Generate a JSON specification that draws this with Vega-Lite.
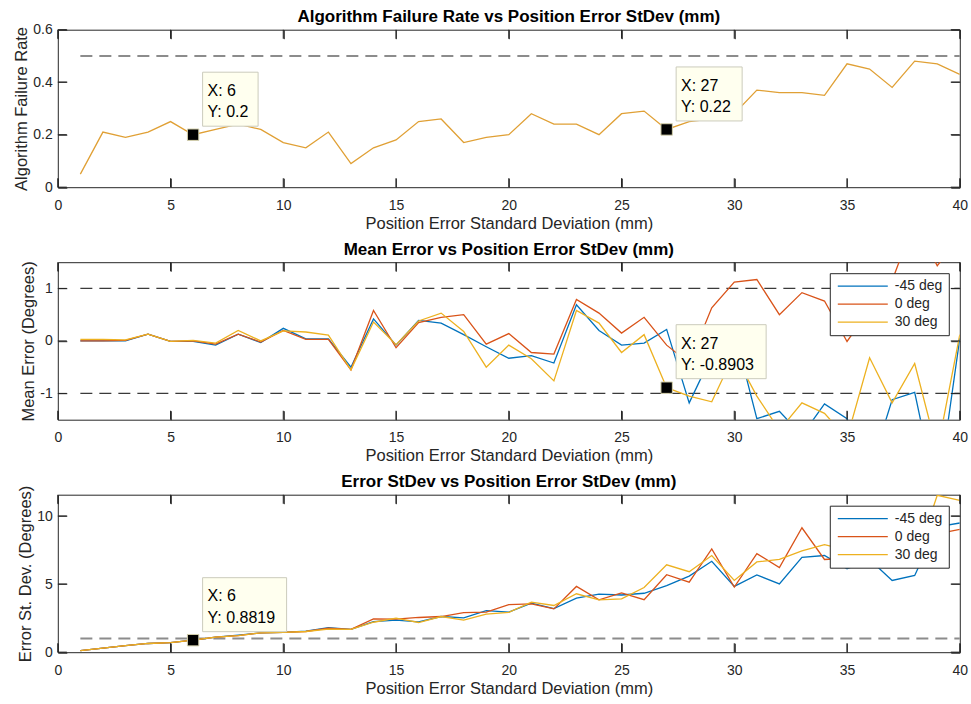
{
  "$schema": "https://vega.github.io/schema/vega-lite/v6.json",
  "background": "white",
  "padding": {"left": 12.8, "top": 7.7, "right": 0, "bottom": 1},
  "config": {
    "font": "Liberation Sans",
    "view": {"stroke": "#262626", "strokeWidth": 1},
    "axis": {
      "labelFont": "Liberation Sans", "labelFontSize": 14, "labelColor": "#262626", "labelFlush": false,
      "titleFont": "Liberation Sans", "titleFontSize": 16.5, "titleFontWeight": "normal", "titleColor": "#262626",
      "tickColor": "#262626", "tickWidth": 1, "tickSize": 9, "offset": -9, "grid": false, "domain": false,
      "titlePadding": 3, "minExtent": 0, "labelExpr": "'' + datum.value"
    },
    "title": {"font": "Liberation Sans", "fontSize": 17, "fontWeight": "bold", "color": "#000000", "anchor": "middle", "baseline": "alphabetic", "offset": 6.6},
    "legend": {
      "orient": "top-right", "offset": 11, "padding": 6, "strokeColor": "#262626", "fillColor": "#ffffff",
      "labelFont": "Liberation Sans", "labelFontSize": 14, "labelColor": "#262626",
      "symbolType": "M-1,0H9", "symbolSize": 100, "symbolStrokeWidth": 1.3, "labelOffset": 45, "rowPadding": 4
    }
  },
  "datasets": {
    "rate": [
      {"x": 1, "rate": 0.05}, {"x": 2, "rate": 0.21}, {"x": 3, "rate": 0.19}, {"x": 4, "rate": 0.21}, {"x": 5, "rate": 0.25},
      {"x": 6, "rate": 0.2}, {"x": 7, "rate": 0.22}, {"x": 8, "rate": 0.24}, {"x": 9, "rate": 0.22}, {"x": 10, "rate": 0.17},
      {"x": 11, "rate": 0.15}, {"x": 12, "rate": 0.21}, {"x": 13, "rate": 0.09}, {"x": 14, "rate": 0.15}, {"x": 15, "rate": 0.18},
      {"x": 16, "rate": 0.25}, {"x": 17, "rate": 0.26}, {"x": 18, "rate": 0.17}, {"x": 19, "rate": 0.19}, {"x": 20, "rate": 0.2},
      {"x": 21, "rate": 0.28}, {"x": 22, "rate": 0.24}, {"x": 23, "rate": 0.24}, {"x": 24, "rate": 0.2}, {"x": 25, "rate": 0.28},
      {"x": 26, "rate": 0.29}, {"x": 27, "rate": 0.22}, {"x": 28, "rate": 0.25}, {"x": 29, "rate": 0.26}, {"x": 30, "rate": 0.28},
      {"x": 31, "rate": 0.37}, {"x": 32, "rate": 0.36}, {"x": 33, "rate": 0.36}, {"x": 34, "rate": 0.35}, {"x": 35, "rate": 0.47},
      {"x": 36, "rate": 0.45}, {"x": 37, "rate": 0.38}, {"x": 38, "rate": 0.48}, {"x": 39, "rate": 0.47}, {"x": 40, "rate": 0.43}
    ],
    "mean": [
      {"x": 1, "-45 deg": 0.0, "0 deg": 0.0, "30 deg": 0.03},
      {"x": 2, "-45 deg": 0.0, "0 deg": 0.0, "30 deg": 0.03},
      {"x": 3, "-45 deg": 0.0, "0 deg": 0.01, "30 deg": 0.02},
      {"x": 4, "-45 deg": 0.13, "0 deg": 0.13, "30 deg": 0.13},
      {"x": 5, "-45 deg": -0.01, "0 deg": -0.01, "30 deg": -0.01},
      {"x": 6, "-45 deg": -0.01, "0 deg": 0.0, "30 deg": 0.01},
      {"x": 7, "-45 deg": -0.08, "0 deg": -0.06, "30 deg": -0.04},
      {"x": 8, "-45 deg": 0.13, "0 deg": 0.13, "30 deg": 0.2},
      {"x": 9, "-45 deg": -0.03, "0 deg": -0.02, "30 deg": 0.0},
      {"x": 10, "-45 deg": 0.24, "0 deg": 0.2, "30 deg": 0.19},
      {"x": 11, "-45 deg": 0.04, "0 deg": 0.03, "30 deg": 0.17},
      {"x": 12, "-45 deg": 0.04, "0 deg": 0.03, "30 deg": 0.11},
      {"x": 13, "-45 deg": -0.5, "0 deg": -0.55, "30 deg": -0.55},
      {"x": 14, "-45 deg": 0.42, "0 deg": 0.58, "30 deg": 0.36},
      {"x": 15, "-45 deg": -0.08, "0 deg": -0.13, "30 deg": -0.07},
      {"x": 16, "-45 deg": 0.39, "0 deg": 0.35, "30 deg": 0.38},
      {"x": 17, "-45 deg": 0.34, "0 deg": 0.45, "30 deg": 0.53},
      {"x": 18, "-45 deg": 0.12, "0 deg": 0.5, "30 deg": 0.18},
      {"x": 19, "-45 deg": -0.11, "0 deg": -0.06, "30 deg": -0.5},
      {"x": 20, "-45 deg": -0.33, "0 deg": 0.14, "30 deg": -0.08},
      {"x": 21, "-45 deg": -0.28, "0 deg": -0.22, "30 deg": -0.34},
      {"x": 22, "-45 deg": -0.42, "0 deg": -0.25, "30 deg": -0.76},
      {"x": 23, "-45 deg": 0.69, "0 deg": 0.79, "30 deg": 0.58},
      {"x": 24, "-45 deg": 0.2, "0 deg": 0.53, "30 deg": 0.34},
      {"x": 25, "-45 deg": -0.08, "0 deg": 0.15, "30 deg": -0.22},
      {"x": 26, "-45 deg": -0.04, "0 deg": 0.45, "30 deg": 0.12},
      {"x": 27, "-45 deg": 0.22, "0 deg": -0.08, "30 deg": -0.8903},
      {"x": 28, "-45 deg": -1.18, "0 deg": -0.42, "30 deg": -1.05},
      {"x": 29, "-45 deg": -0.28, "0 deg": 0.63, "30 deg": -1.16},
      {"x": 30, "-45 deg": 0.2, "0 deg": 1.12, "30 deg": -0.25},
      {"x": 31, "-45 deg": -1.48, "0 deg": 1.17, "30 deg": -1.05},
      {"x": 32, "-45 deg": -1.34, "0 deg": 0.5, "30 deg": -1.7},
      {"x": 33, "-45 deg": -1.8, "0 deg": 0.92, "30 deg": -1.18},
      {"x": 34, "-45 deg": -1.2, "0 deg": 0.76, "30 deg": -1.38},
      {"x": 35, "-45 deg": -1.48, "0 deg": -0.01, "30 deg": -1.85},
      {"x": 36, "-45 deg": -2.5, "0 deg": 0.6, "30 deg": -0.32},
      {"x": 37, "-45 deg": -1.12, "0 deg": 1.15, "30 deg": -1.18},
      {"x": 38, "-45 deg": -0.98, "0 deg": 2.3, "30 deg": -0.43},
      {"x": 39, "-45 deg": -3.0, "0 deg": 1.43, "30 deg": -2.1},
      {"x": 40, "-45 deg": 0.05, "0 deg": 2.0, "30 deg": 0.12}
    ],
    "sd": [
      {"x": 1, "-45 deg": 0.12, "0 deg": 0.12, "30 deg": 0.12},
      {"x": 2, "-45 deg": 0.3, "0 deg": 0.3, "30 deg": 0.3},
      {"x": 3, "-45 deg": 0.48, "0 deg": 0.48, "30 deg": 0.48},
      {"x": 4, "-45 deg": 0.64, "0 deg": 0.64, "30 deg": 0.64},
      {"x": 5, "-45 deg": 0.7, "0 deg": 0.7, "30 deg": 0.7},
      {"x": 6, "-45 deg": 0.8819, "0 deg": 0.88, "30 deg": 0.88},
      {"x": 7, "-45 deg": 1.1, "0 deg": 1.1, "30 deg": 1.1},
      {"x": 8, "-45 deg": 1.25, "0 deg": 1.22, "30 deg": 1.22},
      {"x": 9, "-45 deg": 1.42, "0 deg": 1.42, "30 deg": 1.42},
      {"x": 10, "-45 deg": 1.45, "0 deg": 1.45, "30 deg": 1.45},
      {"x": 11, "-45 deg": 1.55, "0 deg": 1.52, "30 deg": 1.52},
      {"x": 12, "-45 deg": 1.81, "0 deg": 1.76, "30 deg": 1.7},
      {"x": 13, "-45 deg": 1.67, "0 deg": 1.67, "30 deg": 1.67},
      {"x": 14, "-45 deg": 2.25, "0 deg": 2.45, "30 deg": 2.2},
      {"x": 15, "-45 deg": 2.35, "0 deg": 2.43, "30 deg": 2.5},
      {"x": 16, "-45 deg": 2.23, "0 deg": 2.55, "30 deg": 2.18},
      {"x": 17, "-45 deg": 2.62, "0 deg": 2.62, "30 deg": 2.62},
      {"x": 18, "-45 deg": 2.52, "0 deg": 2.9, "30 deg": 2.35},
      {"x": 19, "-45 deg": 3.06, "0 deg": 2.94, "30 deg": 2.8},
      {"x": 20, "-45 deg": 2.94, "0 deg": 3.5, "30 deg": 2.92},
      {"x": 21, "-45 deg": 3.6, "0 deg": 3.55, "30 deg": 3.68},
      {"x": 22, "-45 deg": 3.2, "0 deg": 3.18, "30 deg": 3.43},
      {"x": 23, "-45 deg": 3.97, "0 deg": 4.83, "30 deg": 4.29},
      {"x": 24, "-45 deg": 4.26, "0 deg": 3.85, "30 deg": 3.85},
      {"x": 25, "-45 deg": 4.2, "0 deg": 4.36, "30 deg": 3.92},
      {"x": 26, "-45 deg": 4.33, "0 deg": 3.86, "30 deg": 4.75},
      {"x": 27, "-45 deg": 4.89, "0 deg": 5.69, "30 deg": 6.42},
      {"x": 28, "-45 deg": 5.59, "0 deg": 5.14, "30 deg": 5.91},
      {"x": 29, "-45 deg": 6.68, "0 deg": 7.58, "30 deg": 7.1},
      {"x": 30, "-45 deg": 4.83, "0 deg": 4.78, "30 deg": 5.27},
      {"x": 31, "-45 deg": 5.67, "0 deg": 7.24, "30 deg": 6.63},
      {"x": 32, "-45 deg": 5.02, "0 deg": 6.21, "30 deg": 6.82},
      {"x": 33, "-45 deg": 6.96, "0 deg": 9.14, "30 deg": 7.45},
      {"x": 34, "-45 deg": 7.1, "0 deg": 6.81, "30 deg": 7.9},
      {"x": 35, "-45 deg": 6.13, "0 deg": 6.9, "30 deg": 7.5},
      {"x": 36, "-45 deg": 6.8, "0 deg": 7.4, "30 deg": 7.2},
      {"x": 37, "-45 deg": 5.27, "0 deg": 7.6, "30 deg": 7.8},
      {"x": 38, "-45 deg": 5.64, "0 deg": 8.0, "30 deg": 6.6},
      {"x": 39, "-45 deg": 9.2, "0 deg": 8.7, "30 deg": 11.52},
      {"x": 40, "-45 deg": 9.49, "0 deg": 9.02, "30 deg": 11.15}
    ],
    "refs": [
      {"panel": 1, "x": 1, "x2": 40, "y": 0.5},
      {"panel": 2, "x": 1, "x2": 40, "y": 1},
      {"panel": 2, "x": 1, "x2": 40, "y": -1},
      {"panel": 3, "x": 1, "x2": 40, "y": 1}
    ],
    "tips": [
      {"panel": 1, "tip": "t1", "x": 6, "y": 0.2, "label": "X: 6\nY: 0.2"},
      {"panel": 1, "tip": "t2", "x": 27, "y": 0.22, "label": "X: 27\nY: 0.22"},
      {"panel": 2, "tip": "t3", "x": 27, "y": -0.8903, "label": "X: 27\nY: -0.8903"},
      {"panel": 3, "tip": "t4", "x": 6, "y": 0.8819, "label": "X: 6\nY: 0.8819"}
    ],
    "xticks": [{"v": 0}, {"v": 5}, {"v": 10}, {"v": 15}, {"v": 20}, {"v": 25}, {"v": 30}, {"v": 35}, {"v": 40}],
    "yticks": [
      {"panel": 1, "v": 0}, {"panel": 1, "v": 0.2}, {"panel": 1, "v": 0.4}, {"panel": 1, "v": 0.6},
      {"panel": 2, "v": -1}, {"panel": 2, "v": 0}, {"panel": 2, "v": 1},
      {"panel": 3, "v": 0}, {"panel": 3, "v": 5}, {"panel": 3, "v": 10}
    ]
  },
  "spacing": 6.5,
  "resolve": {
    "scale": {"x": "independent", "y": "independent", "color": "independent", "shape": "independent"},
    "legend": {"color": "independent"}
  },
  "vconcat": [
    {
      "width": 902, "height": 157.5,
      "title": {"text": "Algorithm Failure Rate vs Position Error StDev (mm)", "offset": -3.6},
      "resolve": {"axis": {"x": "independent", "y": "independent"}},
      "layer": [
        {
          "data": {"name": "refs"},
          "transform": [{"filter": "datum.panel == 1"}],
          "mark": {"type": "rule", "color": "#8c8c8c", "strokeWidth": 2, "strokeDash": [12, 7]},
          "encoding": {
            "x": {"field": "x", "type": "quantitative", "scale": {"domain": [0, 40], "nice": false},
                  "axis": {"orient": "top", "values": [0, 5, 10, 15, 20, 25, 30, 35, 40], "labels": false, "title": null}},
            "x2": {"field": "x2"},
            "y": {"field": "y", "type": "quantitative", "scale": {"domain": [0, 0.6], "nice": false},
                  "axis": {"orient": "right", "values": [0, 0.2, 0.4, 0.6], "labels": false, "title": null}}
          }
        },
        {
          "data": {"name": "rate"},
          "mark": {"type": "line", "color": "#E0A035", "strokeWidth": 1.3, "clip": true},
          "encoding": {
            "x": {"field": "x", "type": "quantitative", "scale": {"domain": [0, 40], "nice": false},
                  "axis": {"orient": "bottom", "values": [0, 5, 10, 15, 20, 25, 30, 35, 40], "labelPadding": 11.3, "title": "Position Error Standard Deviation (mm)"}},
            "y": {"field": "rate", "type": "quantitative", "scale": {"domain": [0, 0.6], "nice": false},
                  "axis": {"orient": "left", "values": [0, 0.2, 0.4, 0.6], "labelPadding": 5.6, "title": "Algorithm Failure Rate"}}
          }
        },
        {
          "data": {"name": "xticks"},
          "mark": {"type": "rule", "color": "#262626", "strokeWidth": 1.1},
          "encoding": {"x": {"field": "v", "type": "quantitative", "axis": null}, "y": {"datum": 0, "type": "quantitative", "axis": null}, "y2": {"datum": 0.0343}}
        },
        {
          "data": {"name": "xticks"},
          "mark": {"type": "rule", "color": "#262626", "strokeWidth": 1.1},
          "encoding": {"x": {"field": "v", "type": "quantitative", "axis": null}, "y": {"datum": 0.6, "type": "quantitative", "axis": null}, "y2": {"datum": 0.5657}}
        },
        {
          "data": {"name": "yticks"},
          "transform": [{"filter": "datum.panel == 1"}],
          "mark": {"type": "rule", "color": "#262626", "strokeWidth": 1.1},
          "encoding": {"y": {"field": "v", "type": "quantitative", "axis": null}, "x": {"datum": 0, "type": "quantitative", "axis": null}, "x2": {"datum": 0.4}}
        },
        {
          "data": {"name": "yticks"},
          "transform": [{"filter": "datum.panel == 1"}],
          "mark": {"type": "rule", "color": "#262626", "strokeWidth": 1.1},
          "encoding": {"y": {"field": "v", "type": "quantitative", "axis": null}, "x": {"datum": 40, "type": "quantitative", "axis": null}, "x2": {"datum": 39.6}}
        },
        {
          "data": {"name": "tips"},
          "transform": [{"filter": "datum.panel == 1"}],
          "mark": {"type": "point", "filled": true, "fill": "#FFFFEF", "stroke": "#CBCBBC", "strokeWidth": 1, "size": 4, "opacity": 1},
          "encoding": {
            "x": {"field": "x", "type": "quantitative", "axis": null},
            "y": {"field": "y", "type": "quantitative", "axis": null},
            "shape": {"field": "tip", "type": "nominal", "legend": null,
                      "scale": {"domain": ["t1", "t2"], "range": ["M9.5,-62.5H65V-8.5H9.5Z", "M9.5,-62.5H75.5V-8.5H9.5Z"]}}
          }
        },
        {
          "data": {"name": "tips"},
          "transform": [{"filter": "datum.panel == 1"}],
          "mark": {"type": "text", "align": "left", "baseline": "alphabetic", "dx": 14.4, "dy": -38.9, "fontSize": 16, "lineBreak": "\n", "lineHeight": 21.4, "color": "#000000"},
          "encoding": {
            "x": {"field": "x", "type": "quantitative", "axis": null},
            "y": {"field": "y", "type": "quantitative", "axis": null},
            "text": {"field": "label"}
          }
        },
        {
          "data": {"name": "tips"},
          "transform": [{"filter": "datum.panel == 1"}],
          "mark": {"type": "point", "shape": "square", "size": 130, "filled": true, "fill": "#000000", "stroke": "#D6D2AE", "strokeWidth": 1, "opacity": 1},
          "encoding": {
            "x": {"field": "x", "type": "quantitative", "axis": null},
            "y": {"field": "y", "type": "quantitative", "axis": null}
          }
        }
      ]
    },
    {
      "width": 902, "height": 157.5,
      "title": {"text": "Mean Error vs Position Error StDev (mm)", "offset": 2.2},
      "resolve": {"axis": {"x": "independent", "y": "independent"}},
      "layer": [
        {
          "data": {"name": "refs"},
          "transform": [{"filter": "datum.panel == 2"}],
          "mark": {"type": "rule", "color": "#3a3a3a", "strokeWidth": 1.2, "strokeDash": [12, 7]},
          "encoding": {
            "x": {"field": "x", "type": "quantitative", "scale": {"domain": [0, 40], "nice": false},
                  "axis": {"orient": "top", "values": [0, 5, 10, 15, 20, 25, 30, 35, 40], "labels": false, "title": null}},
            "x2": {"field": "x2"},
            "y": {"field": "y", "type": "quantitative", "scale": {"domain": [-1.5, 1.5], "nice": false},
                  "axis": {"orient": "right", "values": [-1, 0, 1], "labels": false, "title": null}}
          }
        },
        {
          "data": {"name": "mean"},
          "transform": [{"fold": ["-45 deg", "0 deg", "30 deg"], "as": ["angle", "value"]}],
          "mark": {"type": "line", "strokeWidth": 1.3, "clip": true},
          "encoding": {
            "x": {"field": "x", "type": "quantitative", "scale": {"domain": [0, 40], "nice": false},
                  "axis": {"orient": "bottom", "values": [0, 5, 10, 15, 20, 25, 30, 35, 40], "labelPadding": 11.3, "title": "Position Error Standard Deviation (mm)"}},
            "y": {"field": "value", "type": "quantitative", "scale": {"domain": [-1.5, 1.5], "nice": false},
                  "axis": {"orient": "left", "values": [-1, 0, 1], "labelPadding": 5.6, "title": "Mean Error (Degrees)"}},
            "color": {"field": "angle", "type": "nominal",
                      "scale": {"domain": ["-45 deg", "0 deg", "30 deg"], "range": ["#0072BD", "#D95319", "#EDB120"]},
                      "legend": {"title": null}}
          }
        },
        {
          "data": {"name": "xticks"},
          "mark": {"type": "rule", "color": "#262626", "strokeWidth": 1.1},
          "encoding": {"x": {"field": "v", "type": "quantitative", "axis": null}, "y": {"datum": -1.5, "type": "quantitative", "axis": null}, "y2": {"datum": -1.3286}}
        },
        {
          "data": {"name": "xticks"},
          "mark": {"type": "rule", "color": "#262626", "strokeWidth": 1.1},
          "encoding": {"x": {"field": "v", "type": "quantitative", "axis": null}, "y": {"datum": 1.5, "type": "quantitative", "axis": null}, "y2": {"datum": 1.3286}}
        },
        {
          "data": {"name": "yticks"},
          "transform": [{"filter": "datum.panel == 2"}],
          "mark": {"type": "rule", "color": "#262626", "strokeWidth": 1.1},
          "encoding": {"y": {"field": "v", "type": "quantitative", "axis": null}, "x": {"datum": 0, "type": "quantitative", "axis": null}, "x2": {"datum": 0.4}}
        },
        {
          "data": {"name": "yticks"},
          "transform": [{"filter": "datum.panel == 2"}],
          "mark": {"type": "rule", "color": "#262626", "strokeWidth": 1.1},
          "encoding": {"y": {"field": "v", "type": "quantitative", "axis": null}, "x": {"datum": 40, "type": "quantitative", "axis": null}, "x2": {"datum": 39.6}}
        },
        {
          "data": {"name": "tips"},
          "transform": [{"filter": "datum.panel == 2"}],
          "mark": {"type": "point", "shape": "M9.5,-63H99.5V-9H9.5Z", "filled": true, "fill": "#FFFFEF", "stroke": "#CBCBBC", "strokeWidth": 1, "size": 4, "opacity": 1},
          "encoding": {
            "x": {"field": "x", "type": "quantitative", "axis": null},
            "y": {"field": "y", "type": "quantitative", "axis": null}
          }
        },
        {
          "data": {"name": "tips"},
          "transform": [{"filter": "datum.panel == 2"}],
          "mark": {"type": "text", "align": "left", "baseline": "alphabetic", "dx": 14.4, "dy": -38.9, "fontSize": 16, "lineBreak": "\n", "lineHeight": 21.4, "color": "#000000"},
          "encoding": {
            "x": {"field": "x", "type": "quantitative", "axis": null},
            "y": {"field": "y", "type": "quantitative", "axis": null},
            "text": {"field": "label"}
          }
        },
        {
          "data": {"name": "tips"},
          "transform": [{"filter": "datum.panel == 2"}],
          "mark": {"type": "point", "shape": "square", "size": 130, "filled": true, "fill": "#000000", "stroke": "#D6D2AE", "strokeWidth": 1, "opacity": 1},
          "encoding": {
            "x": {"field": "x", "type": "quantitative", "axis": null},
            "y": {"field": "y", "type": "quantitative", "axis": null}
          }
        }
      ]
    },
    {
      "width": 902, "height": 157.5,
      "title": {"text": "Error StDev vs Position Error StDev (mm)", "offset": -5.7},
      "resolve": {"axis": {"x": "independent", "y": "independent"}},
      "layer": [
        {
          "data": {"name": "refs"},
          "transform": [{"filter": "datum.panel == 3"}],
          "mark": {"type": "rule", "color": "#8c8c8c", "strokeWidth": 2, "strokeDash": [12, 7]},
          "encoding": {
            "x": {"field": "x", "type": "quantitative", "scale": {"domain": [0, 40], "nice": false},
                  "axis": {"orient": "top", "values": [0, 5, 10, 15, 20, 25, 30, 35, 40], "labels": false, "title": null}},
            "x2": {"field": "x2"},
            "y": {"field": "y", "type": "quantitative", "scale": {"domain": [0, 11.57], "nice": false},
                  "axis": {"orient": "right", "values": [0, 5, 10], "labels": false, "title": null}}
          }
        },
        {
          "data": {"name": "sd"},
          "transform": [{"fold": ["-45 deg", "0 deg", "30 deg"], "as": ["angle", "value"]}],
          "mark": {"type": "line", "strokeWidth": 1.3, "clip": true},
          "encoding": {
            "x": {"field": "x", "type": "quantitative", "scale": {"domain": [0, 40], "nice": false},
                  "axis": {"orient": "bottom", "values": [0, 5, 10, 15, 20, 25, 30, 35, 40], "labelPadding": 11.3, "title": "Position Error Standard Deviation (mm)"}},
            "y": {"field": "value", "type": "quantitative", "scale": {"domain": [0, 11.57], "nice": false},
                  "axis": {"orient": "left", "values": [0, 5, 10], "labelPadding": 5.6, "title": "Error St. Dev. (Degrees)"}},
            "color": {"field": "angle", "type": "nominal",
                      "scale": {"domain": ["-45 deg", "0 deg", "30 deg"], "range": ["#0072BD", "#D95319", "#EDB120"]},
                      "legend": {"title": null}}
          }
        },
        {
          "data": {"name": "xticks"},
          "mark": {"type": "rule", "color": "#262626", "strokeWidth": 1.1},
          "encoding": {"x": {"field": "v", "type": "quantitative", "axis": null}, "y": {"datum": 0, "type": "quantitative", "axis": null}, "y2": {"datum": 0.661}}
        },
        {
          "data": {"name": "xticks"},
          "mark": {"type": "rule", "color": "#262626", "strokeWidth": 1.1},
          "encoding": {"x": {"field": "v", "type": "quantitative", "axis": null}, "y": {"datum": 11.57, "type": "quantitative", "axis": null}, "y2": {"datum": 10.909}}
        },
        {
          "data": {"name": "yticks"},
          "transform": [{"filter": "datum.panel == 3"}],
          "mark": {"type": "rule", "color": "#262626", "strokeWidth": 1.1},
          "encoding": {"y": {"field": "v", "type": "quantitative", "axis": null}, "x": {"datum": 0, "type": "quantitative", "axis": null}, "x2": {"datum": 0.4}}
        },
        {
          "data": {"name": "yticks"},
          "transform": [{"filter": "datum.panel == 3"}],
          "mark": {"type": "rule", "color": "#262626", "strokeWidth": 1.1},
          "encoding": {"y": {"field": "v", "type": "quantitative", "axis": null}, "x": {"datum": 40, "type": "quantitative", "axis": null}, "x2": {"datum": 39.6}}
        },
        {
          "data": {"name": "tips"},
          "transform": [{"filter": "datum.panel == 3"}],
          "mark": {"type": "point", "shape": "M9.5,-62.5H93.5V-8.5H9.5Z", "filled": true, "fill": "#FFFFEF", "stroke": "#CBCBBC", "strokeWidth": 1, "size": 4, "opacity": 1},
          "encoding": {
            "x": {"field": "x", "type": "quantitative", "axis": null},
            "y": {"field": "y", "type": "quantitative", "axis": null}
          }
        },
        {
          "data": {"name": "tips"},
          "transform": [{"filter": "datum.panel == 3"}],
          "mark": {"type": "text", "align": "left", "baseline": "alphabetic", "dx": 14.4, "dy": -38.9, "fontSize": 16, "lineBreak": "\n", "lineHeight": 21.4, "color": "#000000"},
          "encoding": {
            "x": {"field": "x", "type": "quantitative", "axis": null},
            "y": {"field": "y", "type": "quantitative", "axis": null},
            "text": {"field": "label"}
          }
        },
        {
          "data": {"name": "tips"},
          "transform": [{"filter": "datum.panel == 3"}],
          "mark": {"type": "point", "shape": "square", "size": 130, "filled": true, "fill": "#000000", "stroke": "#D6D2AE", "strokeWidth": 1, "opacity": 1},
          "encoding": {
            "x": {"field": "x", "type": "quantitative", "axis": null},
            "y": {"field": "y", "type": "quantitative", "axis": null}
          }
        }
      ]
    }
  ]
}
